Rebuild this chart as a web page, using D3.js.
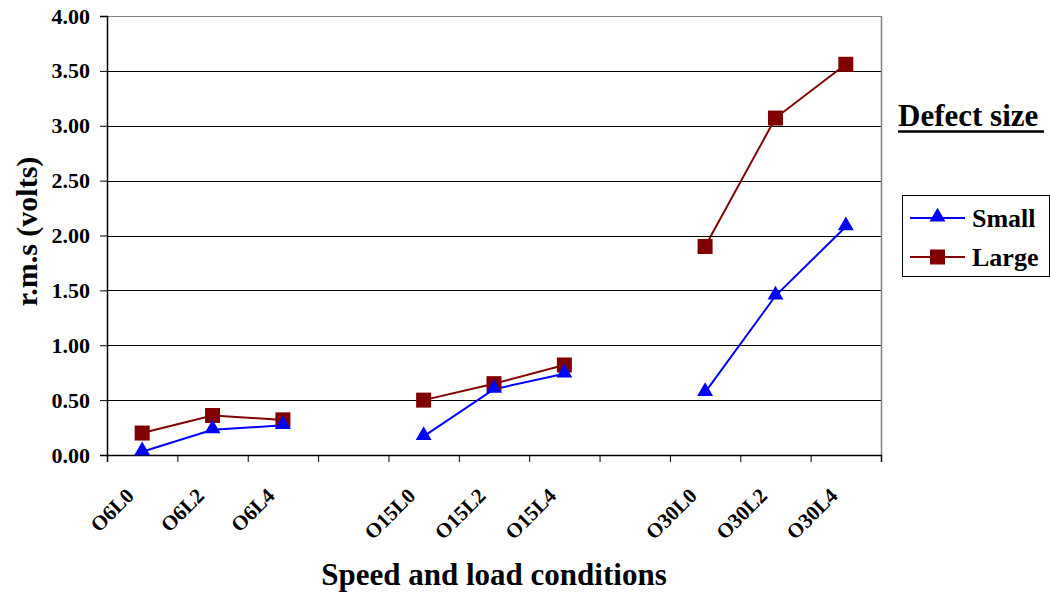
<!DOCTYPE html>
<html>
<head>
<meta charset="utf-8">
<script src="https://cdn.jsdelivr.net/npm/d3@7"></script>
<style>
  body { margin: 0; background: #fff; }
  text { font-family: "Liberation Serif", "Times New Roman", serif; font-weight: bold; fill: #000; }
</style>
</head>
<body>
<div class="chart"></div>
<script>
// Chart data (blank slots separate the speed groups)
var categories = ["O6L0", "O6L2", "O6L4", "", "O15L0", "O15L2", "O15L4", "", "O30L0", "O30L2", "O30L4"];
var smallValues = [0.03, 0.23, 0.27, null, 0.17, 0.60, 0.74, null, 0.57, 1.45, 2.08];
var largeValues = [0.20, 0.36, 0.32, null, 0.50, 0.65, 0.82, null, 1.90, 3.07, 3.56];
var yTicks = [0, 0.5, 1, 1.5, 2, 2.5, 3, 3.5, 4];
var seriesNames = ["Small", "Large"];

var svgWidth = 1050;
var svgHeight = 594;
var margin = { top: 16, right: 169, bottom: 139, left: 107 };
var width = svgWidth - margin.left - margin.right;
var height = svgHeight - margin.top - margin.bottom;

var svg = d3.select(".chart")
  .append("svg")
  .attr("width", svgWidth)
  .attr("height", svgHeight);

var chart = svg.append("g")
  .attr("transform", "translate(" + margin.left + "," + margin.top + ")");

// Scales
var xBandScale = d3.scaleBand()
  .domain(d3.range(categories.length))
  .range([0, width]);
var xEdgeScale = d3.scaleLinear()
  .domain([0, categories.length])
  .range([0, width]);
var yLinearScale = d3.scaleLinear().domain([0, 4]).range([height, 0]);

function xCenter(i) {
  return xBandScale(i) + xBandScale.bandwidth() / 2;
}

// Gridlines
chart.append("g")
  .selectAll("line")
  .data(yTicks)
  .enter()
  .append("line")
  .attr("x1", 0)
  .attr("x2", width)
  .attr("y1", function(d) { return Math.round(yLinearScale(d)) + 0.5; })
  .attr("y2", function(d) { return Math.round(yLinearScale(d)) + 0.5; })
  .attr("stroke", function(d) { return d === 4 ? "#808080" : "#000"; })
  .attr("stroke-width", 1);

// Right border
chart.append("line")
  .attr("x1", width + 0.5).attr("x2", width + 0.5)
  .attr("y1", 0).attr("y2", height)
  .attr("stroke", "#808080")
  .attr("stroke-width", 1.5);

// Y axis
var leftAxis = d3.axisLeft(yLinearScale)
  .tickValues(yTicks)
  .tickSize(7)
  .tickPadding(10)
  .tickFormat(d3.format(".2f"));
var yAxisG = chart.append("g").attr("class", "y-axis").call(leftAxis);
yAxisG.select(".domain").attr("stroke", "#000").attr("stroke-width", 1.5);
yAxisG.selectAll(".tick line").attr("stroke", "#000");
yAxisG.selectAll(".tick text")
  .style("font-size", "22px")
  .style("font-family", "'Liberation Serif', serif")
  .style("font-weight", "bold");

// X axis: ticks between categories
var bottomAxis = d3.axisBottom(xEdgeScale)
  .tickValues(d3.range(categories.length + 1))
  .tickSize(7)
  .tickFormat("");
var xAxisG = chart.append("g")
  .attr("class", "x-axis")
  .attr("transform", "translate(0," + height + ")")
  .call(bottomAxis);
xAxisG.select(".domain").attr("stroke", "#000").attr("stroke-width", 1.5);
xAxisG.selectAll(".tick line").attr("stroke", "#000");

// Rotated category labels
chart.append("g")
  .selectAll("text")
  .data(categories)
  .enter()
  .append("text")
  .attr("text-anchor", "end")
  .attr("transform", function(d, i) {
    return "translate(" + (xCenter(i) - 7) + "," + (height + 42) + ") rotate(-45)";
  })
  .style("font-size", "21px")
  .text(function(d) { return d; });

// Series lines and markers
var lineGen = d3.line()
  .defined(function(d) { return d !== null; })
  .x(function(d, i) { return xCenter(i); })
  .y(function(d) { return yLinearScale(d); });

var triangle = d3.symbol().type(d3.symbolTriangle).size(110);

chart.append("path")
  .datum(smallValues)
  .attr("d", lineGen)
  .attr("fill", "none")
  .attr("stroke", "#0000FF")
  .attr("stroke-width", 2);

chart.append("path")
  .datum(largeValues)
  .attr("d", lineGen)
  .attr("fill", "none")
  .attr("stroke", "#800000")
  .attr("stroke-width", 2);

chart.selectAll(".marker-large")
  .data(largeValues.map(function(v, i) { return { v: v, i: i }; }).filter(function(d) { return d.v !== null; }))
  .enter()
  .append("rect")
  .attr("class", "marker-large")
  .attr("x", function(d) { return xCenter(d.i) - 7.5; })
  .attr("y", function(d) { return yLinearScale(d.v) - 7.5; })
  .attr("width", 15)
  .attr("height", 15)
  .attr("fill", "#800000");

chart.selectAll(".marker-small")
  .data(smallValues.map(function(v, i) { return { v: v, i: i }; }).filter(function(d) { return d.v !== null; }))
  .enter()
  .append("path")
  .attr("class", "marker-small")
  .attr("d", triangle)
  .attr("transform", function(d) {
    return "translate(" + xCenter(d.i) + "," + (yLinearScale(d.v) - 1) + ")";
  })
  .attr("fill", "#0000FF");

// Axis titles
svg.append("text")
  .attr("transform", "translate(37," + (margin.top + height / 2 - 4) + ") rotate(-90)")
  .attr("text-anchor", "middle")
  .style("font-size", "30px")
  .text("r.m.s (volts)");

svg.append("text")
  .attr("x", margin.left + width / 2)
  .attr("y", 585)
  .attr("text-anchor", "middle")
  .style("font-size", "31px")
  .text("Speed and load conditions");

// Legend title
var legendTitle = svg.append("text")
  .attr("x", 898)
  .attr("y", 126)
  .style("font-size", "31px")
  .text("Defect size");
svg.append("line")
  .attr("x1", 898).attr("x2", 1044)
  .attr("y1", 131.5).attr("y2", 131.5)
  .attr("stroke", "#000")
  .attr("stroke-width", 2.5);

// Legend box
var legend = svg.append("g").attr("transform", "translate(902,195)");
legend.append("rect")
  .attr("x", 0.5).attr("y", 0.5)
  .attr("width", 147).attr("height", 81)
  .attr("fill", "#fff")
  .attr("stroke", "#000")
  .attr("stroke-width", 1);

var legendColors = ["#0000FF", "#800000"];
seriesNames.forEach(function(name, k) {
  var ly = 23 + k * 39;
  legend.append("line")
    .attr("x1", 8).attr("x2", 63)
    .attr("y1", ly).attr("y2", ly)
    .attr("stroke", legendColors[k])
    .attr("stroke-width", 2);
  if (k === 0) {
    legend.append("path")
      .attr("d", triangle)
      .attr("transform", "translate(35.5," + (ly - 1) + ")")
      .attr("fill", legendColors[k]);
  } else {
    legend.append("rect")
      .attr("x", 28).attr("y", ly - 7.5)
      .attr("width", 15).attr("height", 15)
      .attr("fill", legendColors[k]);
  }
  legend.append("text")
    .attr("x", 70)
    .attr("y", ly + 9)
    .style("font-size", "26px")
    .text(name);
});
</script>
</body>
</html>
